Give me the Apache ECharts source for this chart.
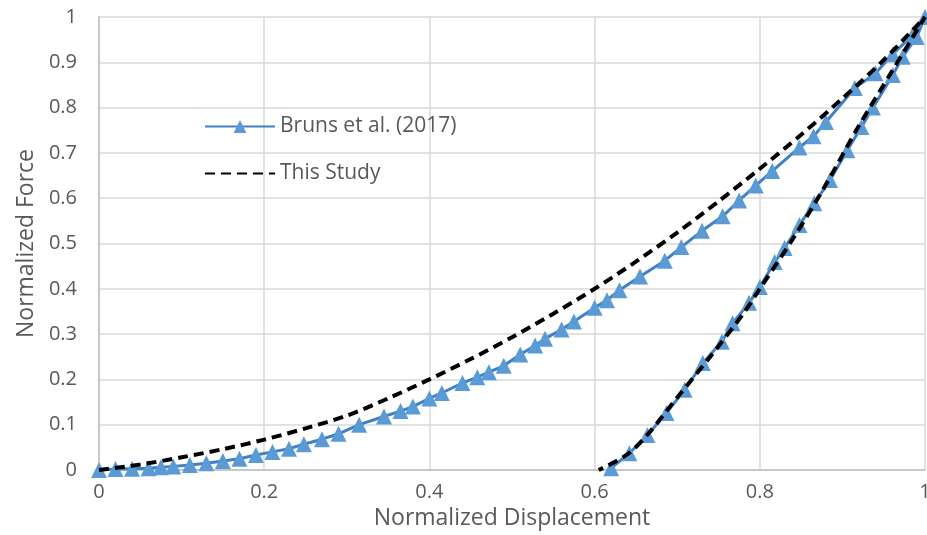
<!DOCTYPE html>
<html>
<head>
<meta charset="utf-8">
<script src="https://cdn.jsdelivr.net/npm/echarts@6/dist/echarts.min.js"></script>
<style>html,body{margin:0;padding:0;background:#fff;overflow:hidden}#c{width:927px;height:535px}</style>
</head>
<body>
<div id="c"></div>
<script>
const seriesNames = ["Bruns et al. (2017)", "This Study"];
const xTicks = [0, 0.2, 0.4, 0.6, 0.8, 1];
const yTicks = [0, 0.1, 0.2, 0.3, 0.4, 0.5, 0.6, 0.7, 0.8, 0.9, 1];

// Bruns et al. (2017): loading branch then unloading branch
const brunsX = [0, 0.02, 0.04, 0.06, 0.075, 0.09, 0.11, 0.13, 0.15, 0.17, 0.19, 0.21, 0.23, 0.248, 0.27, 0.29, 0.315, 0.345, 0.365, 0.38, 0.4, 0.415, 0.44, 0.458, 0.472, 0.49, 0.51, 0.528, 0.54, 0.56, 0.575, 0.6, 0.615, 0.63, 0.655, 0.685, 0.705, 0.73, 0.755, 0.775, 0.795, 0.815, 0.848, 0.865, 0.88, 0.915, 0.94, 0.961, 0.985, 1,
  0.99, 0.973, 0.961, 0.937, 0.923, 0.906, 0.885, 0.866, 0.848, 0.83, 0.818, 0.8, 0.787, 0.767, 0.754, 0.731, 0.709, 0.687, 0.664, 0.642, 0.62];
const brunsY = [0, 0.002, 0.003, 0.004, 0.006, 0.008, 0.011, 0.015, 0.02, 0.025, 0.033, 0.04, 0.047, 0.057, 0.068, 0.08, 0.1, 0.118, 0.13, 0.14, 0.158, 0.17, 0.192, 0.205, 0.216, 0.23, 0.255, 0.275, 0.29, 0.31, 0.328, 0.358, 0.375, 0.397, 0.427, 0.462, 0.492, 0.528, 0.56, 0.595, 0.628, 0.66, 0.712, 0.737, 0.768, 0.843, 0.876, 0.918, 0.96, 1,
  0.956, 0.912, 0.872, 0.8, 0.757, 0.706, 0.64, 0.589, 0.541, 0.49, 0.459, 0.404, 0.369, 0.324, 0.283, 0.236, 0.177, 0.126, 0.077, 0.037, 0.004];

// This Study: loading branch then unloading branch
const studyX = [0, 0.05, 0.1, 0.15, 0.2, 0.25, 0.3, 0.35, 0.4, 0.45, 0.5, 0.55, 0.6, 0.65, 0.7, 0.75, 0.8, 0.85, 0.9, 0.95, 1,
  0.96, 0.92, 0.88, 0.84, 0.8, 0.78, 0.74, 0.7, 0.665, 0.64, 0.605];
const studyY = [0, 0.012, 0.028, 0.046, 0.067, 0.092, 0.12, 0.158, 0.2, 0.245, 0.293, 0.345, 0.4, 0.46, 0.524, 0.593, 0.665, 0.74, 0.82, 0.905, 1,
  0.88, 0.76, 0.63, 0.51, 0.4, 0.345, 0.25, 0.16, 0.08, 0.035, 0];

const zip = (xs, ys) => xs.map((x, i) => [x, ys[i]]);
const font = '"Open Sans", Lato, sans-serif';
const textColor = '#595959';

const chart = echarts.init(document.getElementById('c'), null, { width: 927, height: 535 });
chart.setOption({
  animation: false,
  backgroundColor: '#fff',
  grid: { left: 99, right: 2, top: 17, bottom: 65, containLabel: false, outerBoundsMode: 'none' },
  legend: {
    orient: 'vertical',
    left: 199, top: 111,
    itemWidth: 70, itemHeight: 16, itemGap: 26,
    textStyle: { fontFamily: font, fontSize: 21, color: textColor },
    data: [
      { name: seriesNames[0] },
      { name: seriesNames[1], itemStyle: { color: 'rgba(0,0,0,0)', borderWidth: 0 } }
    ]
  },
  xAxis: {
    type: 'value', min: 0, max: 1, interval: 0.2,
    name: 'Normalized Displacement', nameLocation: 'middle', nameGap: 37,
    nameTextStyle: { fontFamily: font, fontSize: 23, color: textColor },
    axisLine: { lineStyle: { color: '#bfbfbf', width: 1.5 } },
    axisTick: { show: false },
    axisLabel: { fontFamily: font, fontSize: 20, color: textColor, margin: 12,
      formatter: v => xTicks.includes(+v.toFixed(2)) ? String(+v.toFixed(2)) : '' },
    splitLine: { lineStyle: { color: '#d9d9d9', width: 1.5 } }
  },
  yAxis: {
    type: 'value', min: 0, max: 1, interval: 0.1,
    name: 'Normalized Force', nameLocation: 'middle', nameGap: 61,
    nameTextStyle: { fontFamily: font, fontSize: 23, color: textColor },
    axisLine: { show: true, lineStyle: { color: '#bfbfbf', width: 1.5 } },
    axisTick: { show: false },
    axisLabel: { fontFamily: font, fontSize: 20, color: textColor, margin: 22,
      formatter: v => yTicks.includes(+v.toFixed(2)) ? String(+v.toFixed(2)) : '' },
    splitLine: { lineStyle: { color: '#d9d9d9', width: 1.5 } }
  },
  series: [
    {
      name: seriesNames[0], type: 'line', data: zip(brunsX, brunsY),
      symbol: 'triangle', symbolSize: 16, showAllSymbol: true,
      lineStyle: { color: '#3f80c6', width: 3 },
      itemStyle: { color: '#5b9bd5' },
      z: 2
    },
    {
      name: seriesNames[1], type: 'line', data: zip(studyX, studyY),
      symbol: 'none', smooth: 0.3,
      lineStyle: { color: '#000', width: 4, type: [10, 6] },
      itemStyle: { color: '#000' },
      z: 3
    }
  ]
});
</script>
</body>
</html>
